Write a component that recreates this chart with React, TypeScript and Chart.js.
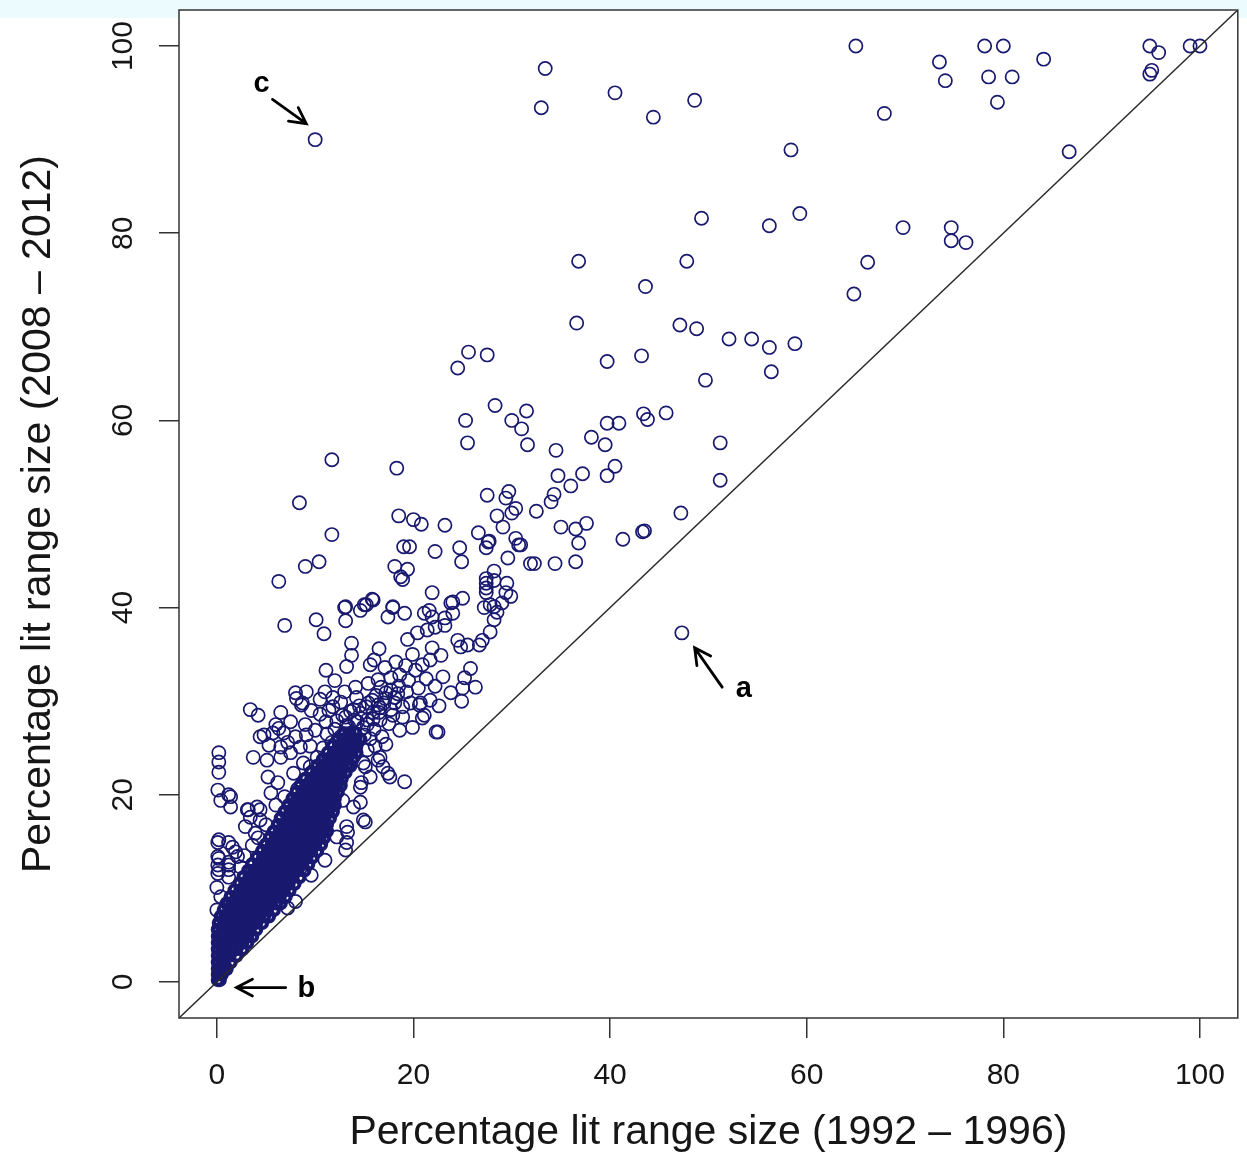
import React, { useEffect, useRef } from 'react';
import { Chart, registerables } from 'chart.js';

Chart.register(...registerables);

const xTickValues = [0, 20, 40, 60, 80, 100];
const yTickValues = [0, 20, 40, 60, 80, 100];
const xTitle = 'Percentage lit range size (1992 – 1996)';
const yTitle = 'Percentage lit range size (2008 – 2012)';
const axisMin = -3.85;
const axisMax = 103.85;
const diagonal = [[-3.85, -3.85], [103.85, 103.85]];

// Sparse points in the upper half of the plot
const upperPoints: number[][] = [
  [100, 100], [99.0, 100], [94.9, 100], [95.8, 99.3], [95.1, 97.4], [94.9, 97.0],
  [65.0, 100], [73.5, 98.3], [74.1, 96.3], [78.1, 100], [80.0, 100], [78.5, 96.7],
  [80.9, 96.7], [84.1, 98.6], [79.4, 94.0], [67.9, 92.8], [86.7, 88.7], [69.8, 80.6],
  [74.7, 80.6], [74.7, 79.2], [76.2, 79.0], [66.2, 76.9], [64.8, 73.5],
  [33.4, 97.6], [33.0, 93.4], [40.5, 95.0], [44.4, 92.4], [48.6, 94.2], [58.4, 88.9],
  [10.0, 90.0], [49.3, 81.6], [56.2, 80.8], [59.3, 82.1], [36.8, 77.0], [47.8, 77.0],
  [43.6, 74.3], [36.6, 70.4], [47.1, 70.2], [48.8, 69.8], [52.1, 68.7], [54.4, 68.7],
  [56.2, 67.8], [58.8, 68.2], [25.6, 67.3], [27.5, 67.0], [24.5, 65.6], [43.2, 66.9],
  [39.7, 66.3], [56.4, 65.2], [49.7, 64.3], [28.3, 61.6], [31.5, 61.0], [25.3, 60.0],
  [30.0, 60.0], [31.0, 59.1], [31.6, 57.4], [25.5, 57.6], [34.5, 56.8], [38.1, 58.2],
  [39.5, 57.4], [39.7, 59.7], [40.9, 59.7], [43.4, 60.7], [43.8, 60.1], [45.7, 60.8],
  [51.2, 57.6], [40.5, 55.1], [39.7, 54.1], [51.2, 53.6], [47.2, 50.1], [43.3, 48.1],
  [41.3, 47.3], [47.3, 37.3],
];

// Points between roughly 40 and 56 %
const middlePoints: number[][] = [
  [11.7, 55.8], [18.3, 54.9], [8.4, 51.2], [11.7, 47.8], [34.7, 54.1], [37.2, 54.3],
  [36.0, 53.0], [27.5, 52.0], [29.7, 52.4], [29.4, 51.7], [34.3, 52.1], [34.0, 51.3],
  [30.4, 50.6], [30.0, 50.1], [32.5, 50.3], [28.5, 49.8], [29.1, 48.6], [18.5, 49.8],
  [20.0, 49.4], [20.8, 48.9], [23.2, 48.8], [26.6, 48.0], [27.6, 47.0], [27.4, 46.4],
  [30.4, 47.4], [30.9, 46.7], [35.0, 48.6], [36.5, 48.4], [37.6, 49.0], [36.8, 46.9],
  [43.5, 48.2], [19.0, 46.5], [19.6, 46.5], [22.2, 46.0], [24.7, 46.4], [24.9, 44.9],
  [29.6, 45.3], [31.9, 44.7], [32.3, 44.7], [34.4, 44.7], [36.5, 44.9], [9.0, 44.4],
  [10.4, 44.9], [6.3, 42.8], [18.1, 44.4], [19.4, 44.1], [18.7, 43.3], [18.9, 43.0],
  [28.2, 43.9], [27.4, 43.1], [27.4, 42.6], [27.4, 42.1], [27.4, 41.6], [29.5, 42.6],
  [21.9, 41.6], [29.4, 41.6], [29.9, 41.2], [25.0, 41.0], [24.0, 40.6], [15.8, 40.9],
  [13.1, 40.1], [15.0, 40.3], [17.9, 40.1], [27.7, 47.1], [30.7, 46.7], [28.2, 42.9],
];

// Loose rings between roughly 20 and 40 %
const lowerPoints: number[][] = [
  [10.1, 38.7], [6.9, 38.1], [10.9, 37.2], [13.0, 40.0], [13.1, 38.6], [14.6, 39.7],
  [15.2, 40.3], [15.9, 40.8], [17.4, 39.0], [17.9, 40.0], [19.1, 39.4], [21.1, 39.4],
  [21.6, 39.7], [21.9, 39.0], [23.2, 38.9], [23.8, 40.5], [24.0, 39.4], [27.2, 40.0],
  [27.8, 40.3], [28.2, 40.1], [29.0, 40.5], [19.4, 36.6], [20.4, 37.3], [21.4, 37.6],
  [22.2, 37.9], [23.2, 38.1], [13.7, 36.2], [13.7, 34.9], [13.2, 33.7], [15.6, 33.9],
  [11.1, 33.3], [24.5, 36.5], [24.8, 35.8], [25.5, 36.0], [26.7, 36.0], [27.0, 36.5],
  [27.8, 37.4], [28.2, 38.7], [28.5, 39.5], [21.9, 35.7], [22.8, 34.9], [21.7, 34.4],
  [25.8, 33.5], [25.2, 32.5], [26.3, 31.5], [23.8, 30.9], [25.0, 31.4], [22.6, 29.5],
  [22.5, 26.7], [23.0, 32.6], [16.4, 32.3], [17.7, 32.5], [18.6, 32.8], [20.2, 33.3],
  [8.0, 30.9], [9.1, 31.0], [8.1, 30.3], [8.6, 29.6], [11.0, 31.0], [11.8, 30.4],
  [13.0, 31.0], [14.1, 31.5], [15.4, 31.9], [3.4, 29.1], [4.2, 28.5], [6.5, 28.8],
  [6.0, 27.5], [6.3, 27.1], [6.8, 26.6], [4.8, 26.4], [5.3, 25.3], [9.0, 27.5],
  [10.0, 26.9], [9.1, 26.4], [11.1, 27.8], [11.8, 29.4], [13.1, 28.3], [3.7, 24.0],
  [5.1, 23.7], [19.1, 21.4], [20.9, 28.2], [20.7, 29.8], [21.7, 30.1], [17.4, 22.3],
  [16.4, 23.7], [15.1, 23.0], [14.7, 21.3], [8.7, 29.8], [12.8, 28.5], [13.9, 29.1],
  [15.4, 29.8], [16.6, 29.3], [18.1, 29.8], [18.9, 29.4], [20.6, 29.6], [22.3, 26.7],
  [15.3, 28.0], [16.6, 28.0], [17.9, 28.5], [18.9, 28.3], [19.9, 27.2], [18.6, 26.9],
  [9.5, 25.2], [11.7, 25.6], [4.4, 26.2], [5.7, 26.6], [6.5, 25.1], [6.5, 24.0],
  [7.5, 24.5], [8.5, 25.1], [8.8, 23.4], [7.8, 22.3], [10.2, 24.0], [9.5, 23.0],
  [13.5, 25.1], [15.3, 24.8], [16.6, 24.0], [14.9, 23.4], [16.9, 23.0], [17.6, 21.9],
  [14.6, 20.8], [15.6, 21.9], [21.1, 28.5], [20.9, 33.9], [19.9, 35.0], [22.2, 31.6],
  [24.9, 30.0], [12.0, 27.0], [13.2, 27.4], [14.3, 27.8], [15.0, 26.4], [16.0, 27.0],
  [16.8, 26.2], [17.5, 27.6], [16.7, 31.5], [18.1, 30.4], [19.7, 29.8], [17.7, 29.1],
];

// Overlapping rings along the ridge above the core
const ridgePoints: number[][] = [
  [10.5, 28.6], [11.4, 29.0], [12.2, 27.9], [13.6, 28.9], [14.5, 29.5], [14.9, 27.2],
  [12.6, 26.2], [11.2, 26.5], [16.2, 30.6], [17.2, 30.9], [18.5, 31.6], [19.3, 31.0],
  [17.0, 29.8], [15.9, 28.8], [14.2, 30.4], [12.6, 29.9], [10.5, 30.2], [19.5, 32.2],
  [20.5, 31.4], [21.3, 32.4], [19.2, 33.8], [18.2, 34.2], [17.1, 33.6], [16.0, 34.4],
  [16.5, 35.6], [12.0, 32.2], [9.6, 29.0], [7.5, 27.8], [8.0, 26.2], [7.2, 25.6],
  [10.8, 25.0], [12.2, 24.0], [13.8, 26.6], [15.6, 26.0], [14.0, 24.2], [13.2, 23.2],
  [11.0, 23.4], [10.3, 22.2], [9.0, 21.6], [8.2, 20.6], [6.9, 19.8], [6.0, 18.9],
  [5.0, 16.8], [4.2, 15.4], [3.6, 14.6], [2.8, 13.5], [16.1, 25.2], [17.2, 25.4],
  [13.4, 27.3], [14.0, 28.0], [14.6, 28.7], [15.3, 27.5], [15.9, 28.1], [16.5, 28.8],
  [15.2, 29.4], [15.8, 30.1], [16.4, 29.6], [17.1, 30.3], [17.7, 31.2], [18.4, 30.8],
];

// Rings along the left edge (x near 0) and beside the dense core
const edgePoints: number[][] = [
  [0.2, 24.5], [0.2, 23.5], [0.2, 22.4], [0.1, 20.5], [1.2, 20.0], [0.4, 19.4],
  [1.4, 19.8], [1.4, 18.7], [3.1, 18.4], [3.4, 17.6], [4.1, 18.7], [4.4, 17.3],
  [5.5, 20.2], [5.2, 21.9], [6.2, 21.3], [0.1, 14.9], [1.6, 14.4], [0.1, 13.4],
  [1.2, 12.8], [0.1, 12.5], [1.2, 12.0], [0.1, 11.6], [0.0, 7.7], [2.4, 12.3],
  [2.1, 13.4], [0.0, 10.1], [0.4, 9.1], [0.2, 15.2], [1.2, 14.9], [1.9, 13.9],
  [0.2, 13.2], [1.2, 12.5], [0.2, 12.0], [1.2, 11.2], [2.9, 16.6], [3.9, 15.9],
  [3.2, 18.4], [4.4, 18.4], [12.8, 19.4], [13.9, 18.7], [14.9, 17.3], [13.2, 16.6],
  [12.2, 15.5], [13.2, 14.9], [14.6, 19.2], [15.1, 17.1], [13.3, 16.0], [13.1, 14.1],
  [11.0, 13.0], [9.6, 11.4], [8.0, 8.6], [7.2, 7.9],
];

// Saturated core of the cloud, one row per level: [y, x values]
const coreRows: [number, number[]][] = [
  [0.2, [0.1, 0.3]],
  [0.8, [0.1, 0.5]],
  [1.4, [0.1, 0.6, 1.0]],
  [2.1, [0.1, 0.7, 1.4]],
  [2.8, [0.1, 0.7, 1.3, 2.0]],
  [3.5, [0.1, 0.7, 1.4, 2.0, 2.6]],
  [4.2, [0.1, 0.7, 1.3, 2.0, 2.6, 3.1]],
  [4.9, [0.1, 0.6, 1.2, 1.9, 2.5, 3.1, 3.6]],
  [5.6, [0.1, 0.7, 1.4, 2.0, 2.7, 3.3, 4.0]],
  [6.3, [0.2, 0.8, 1.5, 2.1, 2.8, 3.4, 4.0, 4.6]],
  [7.0, [0.4, 1.0, 1.7, 2.3, 2.9, 3.6, 4.2, 4.8, 5.3]],
  [7.7, [0.7, 1.3, 2.0, 2.6, 3.2, 3.9, 4.5, 5.1, 5.8]],
  [8.4, [1.0, 1.6, 2.2, 2.9, 3.5, 4.1, 4.8, 5.4, 6.0, 6.5]],
  [9.1, [1.4, 2.0, 2.6, 3.3, 3.9, 4.5, 5.1, 5.8, 6.4, 7.0]],
  [9.8, [1.8, 2.4, 3.0, 3.7, 4.3, 4.9, 5.6, 6.2, 6.8, 7.4]],
  [10.5, [2.3, 2.9, 3.5, 4.2, 4.8, 5.4, 6.0, 6.7, 7.3, 7.9]],
  [11.2, [2.7, 3.3, 4.0, 4.6, 5.2, 5.9, 6.5, 7.1, 7.7, 8.4]],
  [11.9, [3.2, 3.8, 4.4, 5.1, 5.7, 6.3, 7.0, 7.6, 8.2, 8.9]],
  [12.6, [3.6, 4.3, 4.9, 5.5, 6.2, 6.8, 7.4, 8.0, 8.7, 9.3]],
  [13.3, [4.1, 4.7, 5.3, 6.0, 6.6, 7.2, 7.9, 8.5, 9.1, 9.7]],
  [14.0, [4.6, 5.2, 5.8, 6.5, 7.1, 7.7, 8.4, 9.0, 9.6, 10.2]],
  [14.7, [5.0, 5.6, 6.3, 6.9, 7.5, 8.2, 8.8, 9.4, 10.0, 10.6]],
  [15.4, [5.4, 6.0, 6.7, 7.3, 7.9, 8.6, 9.2, 9.8, 10.4, 10.9]],
  [16.1, [5.8, 6.4, 7.1, 7.7, 8.3, 9.0, 9.6, 10.2, 10.8, 11.2]],
  [16.8, [6.2, 6.8, 7.5, 8.1, 8.7, 9.4, 10.0, 10.6, 11.2]],
  [17.5, [6.5, 7.2, 7.8, 8.4, 9.1, 9.7, 10.3, 10.9, 11.5]],
  [18.2, [6.9, 7.5, 8.2, 8.8, 9.4, 10.1, 10.7, 11.3, 11.8]],
  [18.9, [7.3, 7.9, 8.5, 9.2, 9.8, 10.4, 11.1, 11.6, 12.0]],
  [19.6, [7.7, 8.3, 8.9, 9.6, 10.2, 10.8, 11.4, 12.0]],
  [20.3, [8.1, 8.7, 9.3, 10.0, 10.6, 11.2, 11.8, 12.3]],
  [21.0, [8.5, 9.1, 9.8, 10.4, 11.0, 11.6, 12.2, 12.6]],
  [21.7, [9.0, 9.6, 10.2, 10.9, 11.5, 12.1, 12.7]],
  [22.4, [9.6, 10.2, 10.8, 11.4, 12.0, 12.6, 13.1]],
  [23.1, [10.2, 10.8, 11.4, 12.0, 12.6, 13.2, 13.6]],
  [23.8, [10.8, 11.4, 12.0, 12.6, 13.2, 13.8]],
  [24.5, [11.3, 11.9, 12.5, 13.1, 13.7, 14.2]],
  [25.2, [11.8, 12.4, 13.0, 13.6, 14.2]],
  [25.9, [12.3, 12.9, 13.5, 14.1, 14.6]],
  [26.6, [12.9, 13.5, 14.1]],
];

// Annotation letters and arrows, in data units
const annotations = [
  { label: 'a', at: [53.6, 31.3], tail: [51.4, 31.5], tip: [48.6, 35.7] },
  { label: 'b', at: [9.1, -0.7], tail: [7.0, -0.6], tip: [2.0, -0.6] },
  { label: 'c', at: [4.55, 95.9], tail: [5.66, 94.3], tip: [9.1, 91.7] },
];

const NAVY = '#191970';
const INK = '#161616';
const FONT = '"Liberation Sans", Arial, sans-serif';

const toXY = (p: number[]) => ({ x: p[0], y: p[1] });

const bgPlugin = {
  id: 'bgPlugin',
  beforeDraw(chart: any) {
    const { ctx, chartArea } = chart;
    ctx.save();
    ctx.fillStyle = '#ffffff';
    ctx.fillRect(0, 0, chart.width, chart.height);
    ctx.fillStyle = '#ecfbfd';
    ctx.fillRect(0, 0, chart.width, 18);
    ctx.fillStyle = '#ffffff';
    ctx.fillRect(chartArea.left, chartArea.top, chartArea.right - chartArea.left, chartArea.bottom - chartArea.top);
    ctx.restore();
  },
  afterDraw(chart: any) {
    const { ctx, chartArea, scales } = chart;
    ctx.save();
    ctx.strokeStyle = '#333333';
    ctx.lineWidth = 1.5;
    ctx.strokeRect(chartArea.left, chartArea.top, chartArea.right - chartArea.left, chartArea.bottom - chartArea.top);
    const xs = scales.x;
    const ys = scales.y;
    for (const a of annotations) {
      const x1 = xs.getPixelForValue(a.tail[0]);
      const y1 = ys.getPixelForValue(a.tail[1]);
      const x2 = xs.getPixelForValue(a.tip[0]);
      const y2 = ys.getPixelForValue(a.tip[1]);
      ctx.strokeStyle = '#000000';
      ctx.lineWidth = 2.8;
      ctx.lineCap = 'round';
      ctx.beginPath();
      ctx.moveTo(x1, y1);
      ctx.lineTo(x2, y2);
      const ang = Math.atan2(y2 - y1, x2 - x1);
      const len = 18;
      const spread = Math.PI / 6.5;
      ctx.moveTo(x2 - len * Math.cos(ang - spread), y2 - len * Math.sin(ang - spread));
      ctx.lineTo(x2, y2);
      ctx.lineTo(x2 - len * Math.cos(ang + spread), y2 - len * Math.sin(ang + spread));
      ctx.stroke();
      ctx.fillStyle = '#000000';
      ctx.font = `bold 29px ${FONT}`;
      ctx.textAlign = 'center';
      ctx.textBaseline = 'middle';
      ctx.fillText(a.label, xs.getPixelForValue(a.at[0]), ys.getPixelForValue(a.at[1]));
    }
    ctx.restore();
  },
};

export default function App() {
  const canvasRef = useRef<HTMLCanvasElement | null>(null);

  useEffect(() => {
    const canvas = canvasRef.current;
    if (!canvas) return;
    const scatterPoints = [...upperPoints, ...middlePoints, ...lowerPoints, ...ridgePoints, ...edgePoints].map(toXY);
    const corePoints = coreRows.flatMap(([y, xs]) => xs.map((x) => ({ x, y })));

    const axisCommon = (values: number[]) => ({
      type: 'linear' as const,
      min: axisMin,
      max: axisMax,
      afterBuildTicks: (s: any) => {
        s.ticks = values.map((v) => ({ value: v }));
      },
      grid: {
        drawOnChartArea: false,
        drawTicks: true,
        tickLength: 20,
        color: '#333333',
        lineWidth: 1.5,
      },
      border: { display: false },
    });

    const chart = new Chart(canvas, {
      type: 'scatter',
      data: {
        datasets: [
          {
            type: 'line',
            data: diagonal.map(toXY),
            borderColor: '#2a2a2a',
            borderWidth: 1.5,
            pointRadius: 0,
            fill: false,
            tension: 0,
          } as any,
          {
            data: scatterPoints,
            borderColor: NAVY,
            backgroundColor: 'rgba(0,0,0,0)',
            pointRadius: 6.6,
            borderWidth: 1.7,
          },
          {
            data: corePoints,
            borderColor: NAVY,
            backgroundColor: 'rgba(0,0,0,0)',
            pointRadius: 5.0,
            borderWidth: 4.2,
          },
        ],
      },
      options: {
        animation: false,
        responsive: false,
        devicePixelRatio: 1,
        events: [],
        layout: { padding: { left: 0, top: 10, right: 4, bottom: 0 } },
        plugins: { legend: { display: false }, tooltip: { enabled: false } },
        scales: {
          x: {
            ...axisCommon(xTickValues),
            position: 'bottom',
            afterFit: (s: any) => {
              s.height = 143;
              s.paddingLeft = 0;
              s.paddingRight = 0;
            },
            ticks: {
              autoSkip: false,
              maxRotation: 0,
              minRotation: 0,
              padding: 20,
              color: INK,
              font: { family: FONT, size: 30 },
            },
            title: {
              display: true,
              text: xTitle,
              color: INK,
              font: { family: FONT, size: 41 },
              padding: { top: 0, bottom: 4 },
            },
          },
          y: {
            ...axisCommon(yTickValues),
            position: 'left',
            afterFit: (s: any) => {
              s.width = 179;
              s.paddingTop = 0;
              s.paddingBottom = 0;
            },
            ticks: {
              autoSkip: false,
              minRotation: 90,
              maxRotation: 90,
              crossAlign: 'center',
              padding: 10,
              color: INK,
              font: { family: FONT, size: 30 },
            },
            title: {
              display: true,
              text: yTitle,
              color: INK,
              font: { family: FONT, size: 41 },
              padding: { top: 14, bottom: 0 },
            },
          },
        },
      } as any,
      plugins: [bgPlugin],
    });

    return () => chart.destroy();
  }, []);

  return (
    <div style={{ position: 'absolute', left: 0, top: 0, width: 1247, height: 1161, background: '#ffffff' }}>
      <canvas ref={canvasRef} width={1247} height={1161} style={{ display: 'block', width: 1247, height: 1161 }} />
    </div>
  );
}
